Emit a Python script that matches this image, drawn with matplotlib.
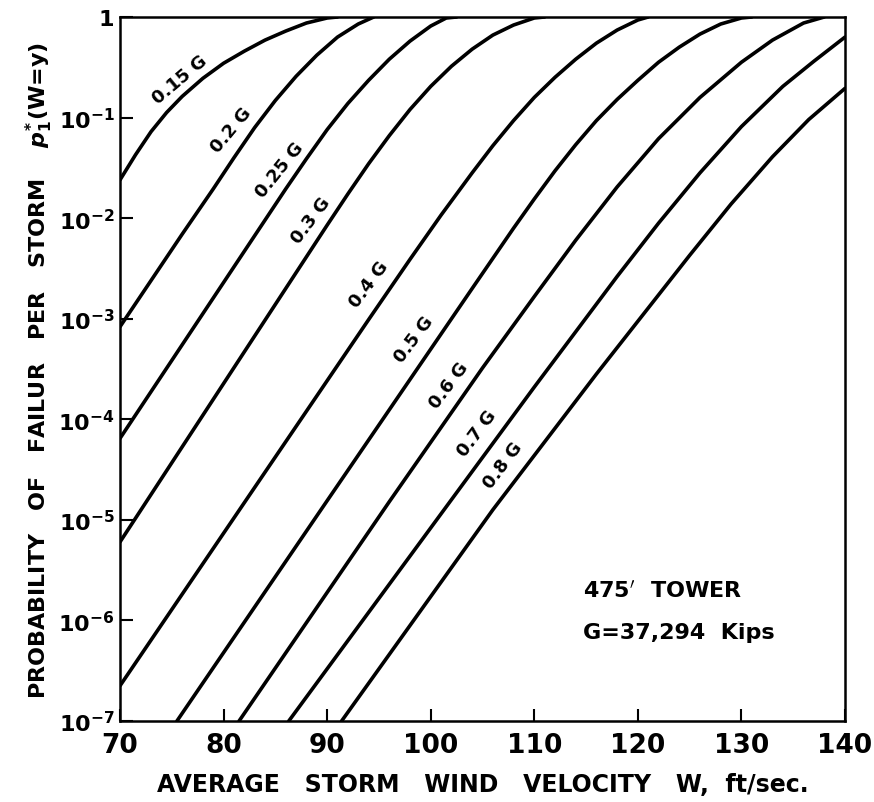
import matplotlib
matplotlib.use("Agg")
import matplotlib.pyplot as plt
import numpy as np

# curves: wind velocity W (ft/sec) and log10 of failure probability
w_015 = [70, 71.5, 73, 74.5, 76, 78, 80, 82, 84, 86, 88, 90, 91]
lp_015 = [-1.62, -1.37, -1.14, -0.95, -0.79, -0.61, -0.46, -0.34, -0.23, -0.14, -0.06, -0.01, 0.0]

w_02 = [70, 73, 76, 79, 81, 83, 85, 87, 89, 91, 93, 94.5]
lp_02 = [-3.08, -2.62, -2.16, -1.71, -1.40, -1.10, -0.83, -0.59, -0.38, -0.20, -0.07, 0.0]

w_025 = [70, 76, 82, 86, 88, 90, 92, 94, 96, 98, 100, 101.5, 102.5]
lp_025 = [-4.19, -3.26, -2.33, -1.71, -1.41, -1.12, -0.86, -0.63, -0.42, -0.24, -0.09, -0.01, 0.0]

w_03 = [70, 78, 86, 90, 92, 94, 96, 98, 100, 102, 104, 106, 108, 110, 111]
lp_03 = [-5.22, -3.96, -2.70, -2.07, -1.76, -1.46, -1.18, -0.92, -0.69, -0.49, -0.32, -0.18, -0.08, -0.01, 0.0]

w_04 = [70, 82, 94, 98, 101, 104, 106, 108, 110, 112, 114, 116, 118, 120, 121]
lp_04 = [-6.65, -4.83, -3.01, -2.41, -1.97, -1.55, -1.28, -1.03, -0.80, -0.60, -0.42, -0.26, -0.13, -0.03, 0.0]

w_05 = [75.5, 90, 104, 108, 110, 112, 114, 116, 118, 120, 122, 124, 126, 128, 130, 131]
lp_05 = [-7, -4.81, -2.70, -2.10, -1.81, -1.53, -1.27, -1.03, -0.82, -0.63, -0.45, -0.30, -0.17, -0.07, -0.01, 0.0]

w_06 = [81.5, 96, 105, 110, 114, 118, 122, 126, 130, 133, 136, 138]
lp_06 = [-7, -4.82, -3.49, -2.78, -2.22, -1.69, -1.21, -0.80, -0.45, -0.23, -0.06, 0.0]

w_07 = [86.3, 102, 110, 118, 122, 126, 130, 134, 137, 140]
lp_07 = [-7, -4.80, -3.68, -2.58, -2.05, -1.55, -1.09, -0.69, -0.44, -0.20]

w_08 = [91.4, 106, 116, 125, 129, 133, 136.5, 140]
lp_08 = [-7, -4.90, -3.55, -2.37, -1.86, -1.39, -1.02, -0.71]

curve_names = ['0.15 G', '0.2 G', '0.25 G', '0.3 G', '0.4 G', '0.5 G', '0.6 G', '0.7 G', '0.8 G']
curve_w = [w_015, w_02, w_025, w_03, w_04, w_05, w_06, w_07, w_08]
curve_lp = [lp_015, lp_02, lp_025, lp_03, lp_04, lp_05, lp_06, lp_07, lp_08]

# label anchor points (W, log10 p) and rotation
label_w = [75.8, 80.7, 85.4, 88.4, 94.0, 98.4, 101.8, 104.5, 107.0]
label_lp = [-0.62, -1.12, -1.52, -2.02, -2.65, -3.20, -3.66, -4.13, -4.45]
label_rot = [40, 50, 51, 53, 53, 53, 53, 53, 53]

x_ticks = [70, 80, 90, 100, 110, 120, 130, 140]
y_ticks = [1e-7, 1e-6, 1e-5, 1e-4, 1e-3, 1e-2, 1e-1, 1]
y_ticklabels = ['10$^{-7}$', '10$^{-6}$', '10$^{-5}$', '10$^{-4}$',
                '10$^{-3}$', '10$^{-2}$', '10$^{-1}$', '1']

plt.rcParams['font.family'] = 'DejaVu Sans'
plt.rcParams['font.weight'] = 'bold'
plt.rcParams['mathtext.default'] = 'bf'

fig = plt.figure(figsize=(8.74, 8.03), dpi=100)
ax = fig.add_axes([0.1373, 0.1009, 0.8295, 0.8767])

for w, lp in zip(curve_w, curve_lp):
    ax.plot(w, 10 ** np.array(lp), color='black', linewidth=2.6,
            solid_capstyle='round', solid_joinstyle='round')

for name, lw, llp, rot in zip(curve_names, label_w, label_lp, label_rot):
    ax.text(lw, 10 ** llp, name, rotation=rot, rotation_mode='anchor',
            ha='center', va='center', fontsize=13, fontweight='bold')

ax.set_yscale('log')
ax.set_xlim(70, 140)
ax.set_ylim(1e-7, 1)

ax.set_xticks(x_ticks)
ax.set_xticklabels([str(t) for t in x_ticks])
ax.set_yticks(y_ticks)
ax.set_yticklabels(y_ticklabels)
ax.yaxis.set_minor_locator(matplotlib.ticker.NullLocator())

ax.tick_params(axis='x', direction='in', length=9, width=1.5, labelsize=19, pad=8)
ax.tick_params(axis='y', direction='in', length=9, width=1.5, labelsize=16, pad=4)
for s in ax.spines.values():
    s.set_linewidth(1.8)

ax.set_xlabel('AVERAGE   STORM   WIND   VELOCITY   W,  ft/sec.', fontsize=17,
              fontweight='bold', labelpad=10)
ax.set_ylabel(r'PROBABILITY   OF   FAILUR   PER   STORM    $\mathit{p}^{*}_{1}$(W=y)',
              fontsize=16, fontweight='bold')
ax.yaxis.set_label_coords(-0.089, 0.5)

ax.text(0.638, 0.186, "475$'$  TOWER", transform=ax.transAxes, fontsize=16,
        fontweight='bold', va='center', ha='left')
ax.text(0.638, 0.126, "G=37,294  Kips", transform=ax.transAxes, fontsize=16,
        fontweight='bold', va='center', ha='left')

fig.savefig('out.png', dpi=100)
